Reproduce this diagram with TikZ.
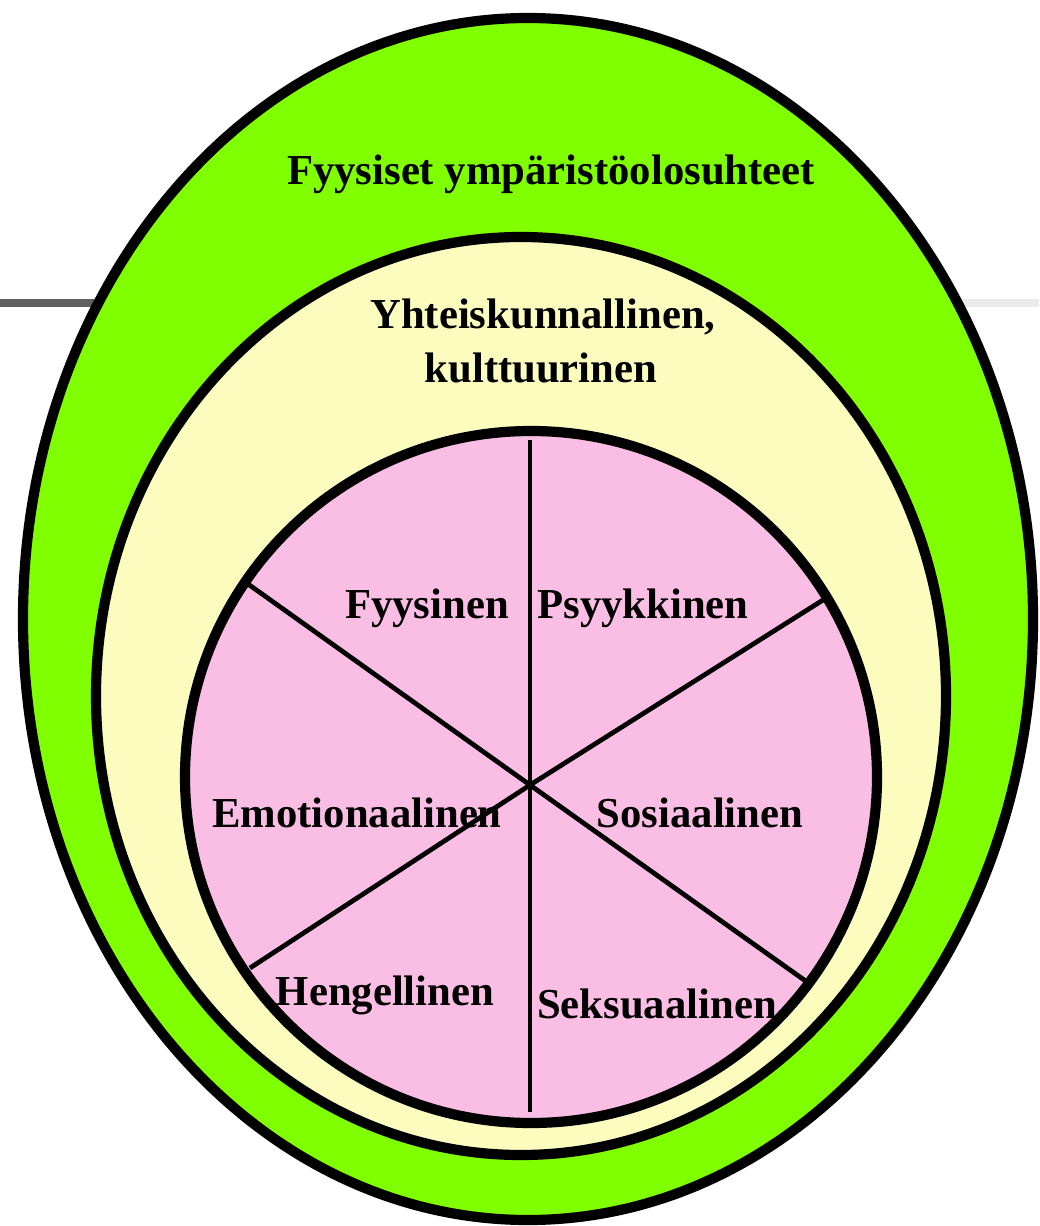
\documentclass[tikz,border=0pt]{standalone}
\usepackage{fontspec}
\setmainfont{Liberation Serif}
\usepackage{tikz}

\definecolor{outergreen}{RGB}{128,255,0}
\definecolor{paleyellow}{RGB}{252,252,190}
\definecolor{softpink}{RGB}{250,190,228}

\tikzset{
	ring/.style={draw=black, line width=5.8pt},
	spoke/.style={draw=black, line width=2.7pt},
	lbl/.style={font=\fontsize{24.3}{27}\selectfont\bfseries, inner sep=0pt, anchor=base}
}

\begin{document}
\begin{tikzpicture}[x=0.02cm, y=-0.02cm]
			\useasboundingbox (0,0) rectangle (1039,1226);
			
			% slide rule behind the picture
			\draw[line width=4pt, black!62] (0,303) -- (100,303);
			\draw[line width=4pt, black!8] (950,303) -- (1039,303);
			
			\filldraw[ring, fill=outergreen] (528,619) ellipse (505 and 601);
			\filldraw[ring, fill=paleyellow] (521,696) ellipse (425 and 459);
			\filldraw[ring, fill=softpink] (531,777) circle (346);
			
			\coordinate (hub) at (530,785);
			\coordinate (top) at (530,440);
			\coordinate (bottom) at (530,1112);
			\coordinate (ul) at (248,584);
			\coordinate (lr) at (807,982);
			\coordinate (ur) at (823,600);
			\coordinate (ll) at (250,968);
			\draw[spoke] (top) -- (bottom);
			\draw[spoke] (ul) -- (hub) -- (lr);
			\draw[spoke] (ur) -- (hub) -- (ll);
			
			\node[lbl] (env) at (551,185) {Fyysiset ympäristöolosuhteet};
			\node[lbl] (soc1) at (543,328) {Yhteiskunnallinen,};
			\node[lbl] (soc2) at (541,382) {kulttuurinen};
			
			\node[lbl] (fyy) at (427,618) {Fyysinen};
			\node[lbl] (psy) at (643,618) {Psyykkinen};
			\node[lbl] (emo) at (357,827) {Emotionaalinen};
			\node[lbl] (sos) at (700,827) {Sosiaalinen};
			\node[lbl] (hen) at (385,1005) {Hengellinen};
			\node[lbl] (sek) at (657,1018) {Seksuaalinen};
		\end{tikzpicture}
\end{document}
